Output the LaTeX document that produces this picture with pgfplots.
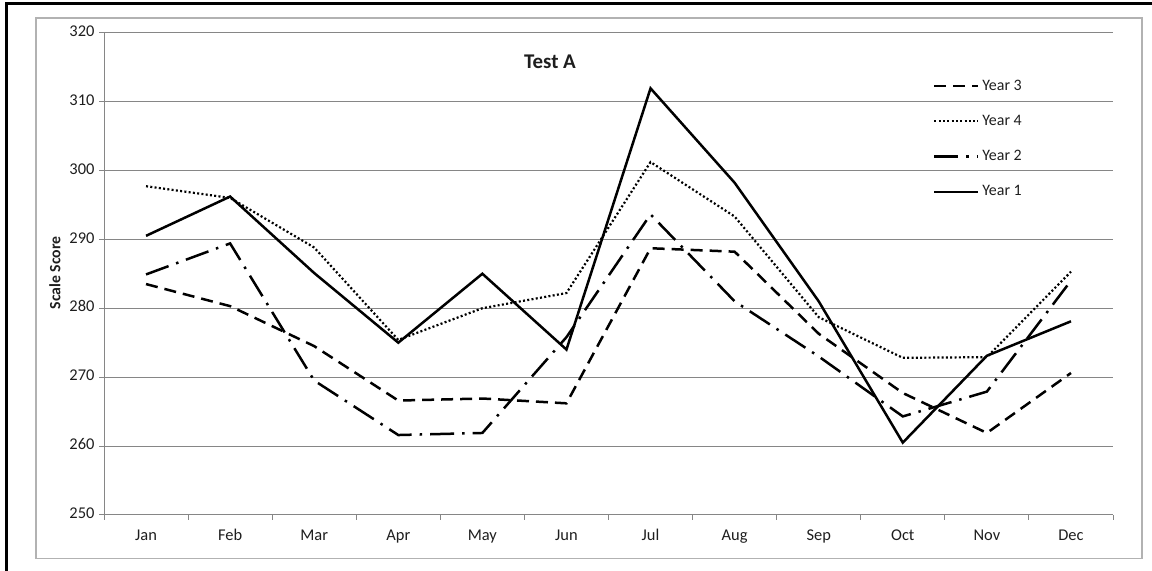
\documentclass[border=0pt]{standalone}
\usepackage{pgfplots}
\pgfplotsset{compat=1.18}
\usepackage{fontspec}
\setmainfont{Carlito}
\definecolor{gridgrey}{RGB}{134,134,134}
\definecolor{framegrey}{RGB}{178,178,178}
\definecolor{txt}{RGB}{30,30,30}
\pgfplotstableread{
m  y3    y4    y2    y1
1  283.5 297.7 284.9 290.5
2  280.3 296.0 289.4 296.2
3  274.5 288.8 269.5 285.1
4  266.6 275.4 261.6 275.0
5  266.9 280.0 261.9 285.0
6  266.2 282.2 275.8 274.0
7  288.7 301.2 293.6 311.9
8  288.2 293.3 281.0 298.2
9  276.3 278.7 273.0 281.0
10 267.7 272.8 264.3 260.5
11 261.9 272.9 267.9 273.1
12 270.6 285.3 284.0 278.1
}\data
\begin{document}
\begin{tikzpicture}[x=1bp,y=1bp]
\useasboundingbox (0,0) rectangle (1152,571);
\draw[framegrey, line width=1.5bp] (36,12.5) rectangle (1142,553);
\draw[black, line width=3bp] (6,0) -- (6,567.5) -- (1152,567.5);
\begin{axis}[
  at={(104bp,56bp)}, anchor=south west,
  scale only axis, width=1009bp, height=482.5bp,
  xmin=0.5, xmax=12.5, ymin=250, ymax=320,
  ytick={250,260,...,320},
  xtick={1,...,12},
  xticklabels={Jan,Feb,Mar,Apr,May,Jun,Jul,Aug,Sep,Oct,Nov,Dec},
  minor xtick={0.5,1.5,...,12.5},
  major x tick style={draw=none},
  tick align=outside, major tick length=5bp, minor tick length=5bp,
  axis x line*=bottom, axis y line*=left,
  axis line style={gridgrey, line width=1bp},
  every tick/.style={gridgrey, line width=1bp},
  ymajorgrids, major grid style={gridgrey, line width=1bp},
  tick label style={font=\fontsize{16.5}{19}\selectfont, text=txt},
  typeset ticklabels with strut,
  xticklabel style={yshift=-4bp},
  yticklabel style={xshift=-1bp},
  /pgf/number format/assume math mode=true,
  /pgf/number format/1000 sep={},
  legend cell align=left,
  legend style={at={(rel axis cs:0.8216,0.904)}, anchor=north west,
    draw=none, fill=none, inner sep=0pt,
    font=\fontsize{16}{19}\selectfont, text=txt,
    row sep=21.3bp,
    nodes={inner sep=0pt, text height=11bp, text depth=3bp}},
  legend image code/.code={\draw[#1] (0bp,0bp) -- (44bp,0bp);},
]
\addplot[black, line width=2.5bp, dash pattern=on 12bp off 7bp] table[x=m,y=y3]{\data};
\addlegendentry{\,Year 3}
\addplot[black, line width=2.2bp, dash pattern=on 2bp off 2.3bp] table[x=m,y=y4]{\data};
\addlegendentry{\,Year 4}
\addplot[black, line width=2.5bp, dash pattern=on 24bp off 8bp on 2.5bp off 8bp] table[x=m,y=y2]{\data};
\addlegendentry{\,Year 2}
\addplot[black, line width=2.5bp] table[x=m,y=y1]{\data};
\addlegendentry{\,Year 1}
\end{axis}
\node[font=\bfseries\fontsize{21}{25}\selectfont, text=txt] at (550,509) {Test A};
\node[rotate=90, font=\bfseries\fontsize{15.8}{19}\selectfont, text=txt] at (55,298) {Scale Score};
\end{tikzpicture}
\end{document}
